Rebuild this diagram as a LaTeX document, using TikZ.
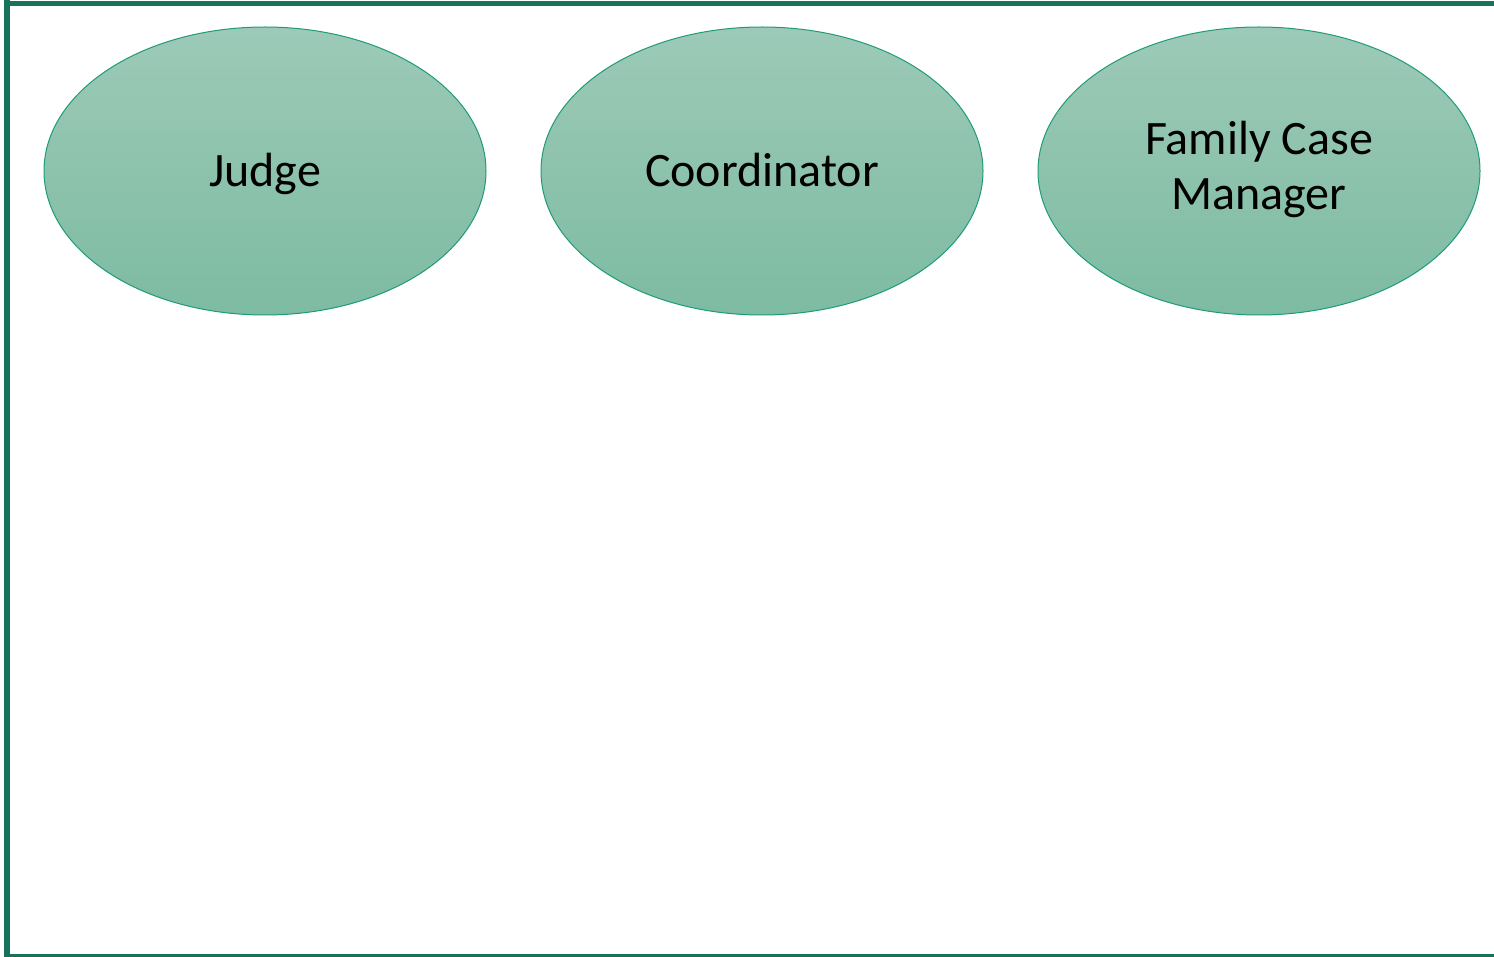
\documentclass[tikz,border=0pt]{standalone}
\usepackage{fontspec}
\setmainfont{Carlito}
\usepackage{tikz}
\usetikzlibrary{calc,positioning,shapes.geometric}

\definecolor{framegreen}{HTML}{17735A}
\definecolor{rimgreen}{HTML}{1E9C78}
\definecolor{topgreen}{HTML}{9DCAB8}
\definecolor{botgreen}{HTML}{7DBBA2}

\newcommand{\rolestrut}{\rule[-11pt]{0pt}{54pt}}

\tikzset{
    role/.style={ellipse, draw=rimgreen, line width=1pt, inner sep=0,
        minimum width=442pt, minimum height=288pt,
        top color=topgreen, bottom color=botgreen,
        align=center, font=\fontsize{48}{55}\selectfont,
        execute at begin node=\rolestrut, execute at end node=\rolestrut},
    rim/.style={draw=framegreen, line cap=rect}
}

\begin{document}
\begin{tikzpicture}[x=1pt,y=-1pt]
    \useasboundingbox (0,0) rectangle (1494,957);
    \fill[white] (0,0) rectangle (1494,957);
    % frame
    \draw[rim, line width=5pt] (7,3.5) -- (1494,3.5);
    \draw[rim, line width=6pt] (7,3.5) -- (7,957);
    \draw[rim, line width=2.5pt] (7,955.5) -- (1494,955.5);

    \node[role] (judge) at (265,171) {Judge};
    \node[role, right=54pt of judge] (coord) {Coordinator};
    \node[role, right=54pt of coord] (fcm) {Family Case\\Manager};
\end{tikzpicture}
\end{document}
